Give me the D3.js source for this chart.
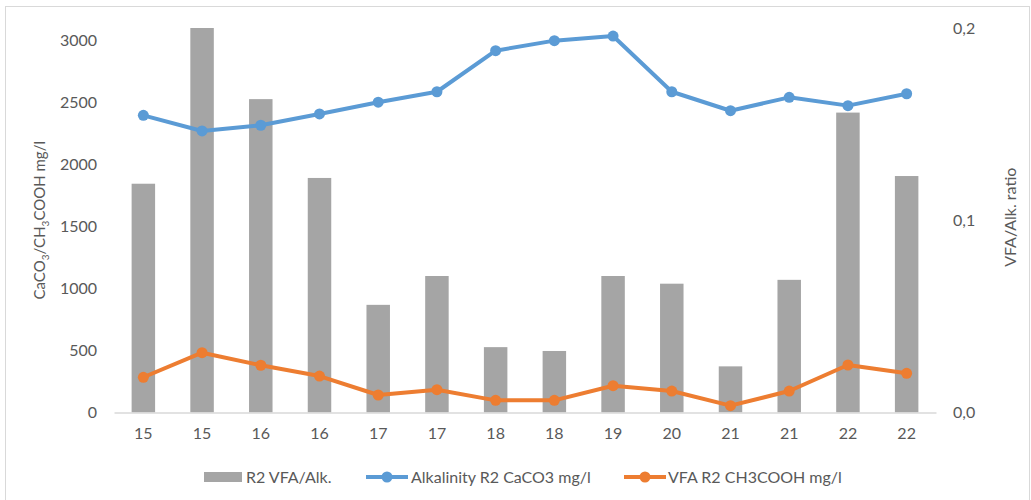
<!DOCTYPE html>
<html>
<head>
<meta charset="utf-8">
<script src="https://cdn.jsdelivr.net/npm/d3@7"></script>
<style>
  html, body { margin: 0; padding: 0; background: #fff; }
  svg { display: block; }
  text { font-family: Lato, "Open Sans", sans-serif; fill: #595959; }
</style>
</head>
<body>
<svg id="chart" width="1031" height="500"></svg>
<script>
// Sampling labels (x axis)
const categories = ["15", "15", "16", "16", "17", "17", "18", "18", "19", "20", "21", "21", "22", "22"];

// Alkalinity R2, CaCO3 mg/l (left axis)
const alkalinity = [2396, 2270, 2316, 2407, 2502, 2586, 2917, 2998, 3035, 2586, 2433, 2541, 2474, 2570];

// VFA R2, CH3COOH mg/l (left axis)
const vfa = [284, 482, 381, 294, 141, 184, 98, 98, 216, 173, 55, 173, 383, 316];

// VFA/Alk. ratio (right axis, bars)
const ratio = [0.119, 0.2, 0.163, 0.122, 0.056, 0.071, 0.034, 0.032, 0.071, 0.067, 0.024, 0.069, 0.156, 0.123];

const leftTicks = [0, 500, 1000, 1500, 2000, 2500, 3000];
const rightTicks = [0, 0.1, 0.2];

const svg = d3.select("#chart");
const plot = { left: 114, right: 936, top: 28, bottom: 412.5 };
const FS = 16;

// chart frame
svg.append("rect")
  .attr("x", 5.5).attr("y", 6.5)
  .attr("width", 1024).attr("height", 500)
  .attr("fill", "none").attr("stroke", "#d9d9d9").attr("stroke-width", 1);

const x = d3.scaleBand()
  .domain(d3.range(categories.length))
  .range([plot.left, plot.right])
  .paddingInner(0.6)
  .paddingOuter(0.3);

const yLeft = d3.scaleLinear().domain([0, 3100]).range([plot.bottom, plot.top]);
const yRight = d3.scaleLinear().domain([0, 0.2]).range([plot.bottom, plot.top]);

const cx = i => x(i) + x.bandwidth() / 2;

// bars: VFA/Alk ratio
svg.append("g")
  .selectAll("rect")
  .data(ratio)
  .join("rect")
  .attr("x", (d, i) => x(i))
  .attr("y", d => yRight(d))
  .attr("width", x.bandwidth())
  .attr("height", d => yRight(0) - yRight(d))
  .attr("fill", "#a5a5a5");

function styleTicks(g) {
  g.selectAll("text")
    .attr("font-size", FS)
    .style("font-family", "Lato, sans-serif")
    .attr("fill", "#595959");
}

// x axis
const gx = svg.append("g")
  .attr("transform", `translate(0,${plot.bottom})`)
  .call(d3.axisBottom(x).tickFormat(i => categories[i]).tickSize(0).tickPadding(15));
gx.select(".domain").attr("stroke", "#d9d9d9").attr("stroke-width", 1.5);
styleTicks(gx);

// left axis
const gl = svg.append("g")
  .attr("transform", `translate(${plot.left - 14},0)`)
  .call(d3.axisLeft(yLeft).tickValues(leftTicks).tickFormat(d3.format("d")).tickSize(0).tickPadding(3));
gl.select(".domain").remove();
styleTicks(gl);

// right axis (decimal comma)
const fmtComma = d => d3.format(".1f")(d).replace(".", ",");
const gr = svg.append("g")
  .attr("transform", `translate(${plot.right + 14},0)`)
  .call(d3.axisRight(yRight).tickValues(rightTicks).tickFormat(fmtComma).tickSize(0).tickPadding(3));
gr.select(".domain").remove();
styleTicks(gr);

// axis titles
const lt = svg.append("text")
  .attr("transform", `translate(45,${(plot.top + plot.bottom) / 2}) rotate(-90)`)
  .attr("text-anchor", "middle")
  .attr("font-size", 15);
lt.append("tspan").text("CaCO");
lt.append("tspan").text("3").attr("font-size", 10).attr("dy", 4);
lt.append("tspan").text("/CH").attr("dy", -4);
lt.append("tspan").text("3").attr("font-size", 10).attr("dy", 4);
lt.append("tspan").text("COOH mg/l").attr("dy", -4);

svg.append("text")
  .attr("transform", `translate(1016,${(plot.top + plot.bottom) / 2 - 3}) rotate(-90)`)
  .attr("text-anchor", "middle")
  .attr("font-size", FS)
  .text("VFA/Alk. ratio");

// lines with markers
function drawSeries(values, color) {
  const line = d3.line().x((d, i) => cx(i)).y(d => yLeft(d));
  svg.append("path")
    .datum(values)
    .attr("d", line)
    .attr("fill", "none")
    .attr("stroke", color)
    .attr("stroke-width", 4)
    .attr("stroke-linejoin", "round");
  svg.append("g")
    .selectAll("circle")
    .data(values)
    .join("circle")
    .attr("cx", (d, i) => cx(i))
    .attr("cy", d => yLeft(d))
    .attr("r", 5.5)
    .attr("fill", color);
}
drawSeries(alkalinity, "#5b9bd5");
drawSeries(vfa, "#ed7d31");

// legend
const ly = 477;
const legend = svg.append("g").attr("font-size", FS);
legend.append("rect").attr("x", 204).attr("y", ly - 5).attr("width", 38).attr("height", 10).attr("fill", "#a5a5a5");
legend.append("text").attr("x", 246).attr("y", ly).attr("dy", "0.35em").text("R2 VFA/Alk.");

const items = [
  { x0: 366, tx: 411, color: "#5b9bd5", label: "Alkalinity R2 CaCO3 mg/l" },
  { x0: 624, tx: 668, color: "#ed7d31", label: "VFA R2 CH3COOH mg/l" }
];
items.forEach(it => {
  legend.append("line").attr("x1", it.x0).attr("x2", it.x0 + 42).attr("y1", ly).attr("y2", ly)
    .attr("stroke", it.color).attr("stroke-width", 4);
  legend.append("circle").attr("cx", it.x0 + 21).attr("cy", ly).attr("r", 5.5).attr("fill", it.color);
  legend.append("text").attr("x", it.tx).attr("y", ly).attr("dy", "0.35em").text(it.label);
});
</script>
</body>
</html>
